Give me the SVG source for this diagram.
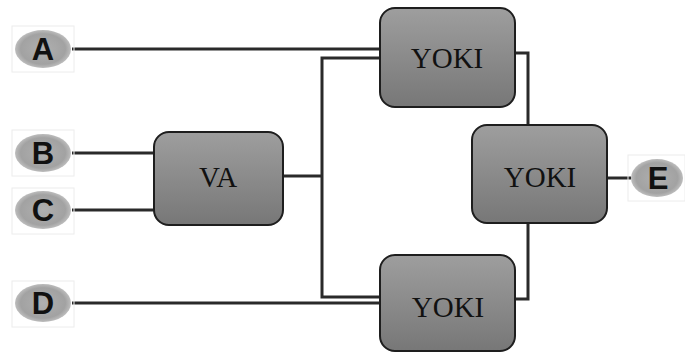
<svg xmlns="http://www.w3.org/2000/svg" width="685" height="353" viewBox="0 0 685 353">
<style>
.box{fill:url(#g);stroke:#1e1e1e;stroke-width:2}
.t{font-family:"Liberation Serif",serif;font-size:29px;fill:#111;text-anchor:middle}
.lbl{font-family:"Liberation Sans",Arial,sans-serif;font-weight:bold;font-size:31px;fill:#111;text-anchor:middle}
.ell{fill:url(#eg)}
.frame{fill:none;stroke:#ececec;stroke-width:1}
.c{fill:none;stroke:#2a2a2a;stroke-width:3}
</style>
<defs>
<linearGradient id="g" x1="0" y1="0" x2="0" y2="1">
<stop offset="0" stop-color="#9e9e9e"/>
<stop offset="1" stop-color="#777"/>
</linearGradient>
<radialGradient id="eg" cx="0.5" cy="0.5" r="0.5">
<stop offset="0" stop-color="#b0b0b0"/>
<stop offset="0.8" stop-color="#a2a2a2"/>
<stop offset="1" stop-color="#bdbdbd"/>
</radialGradient>
</defs>
<rect width="685" height="353" fill="#fff"/>
<g id="connectors">
<path class="c" d="M72 49 H381"/>
<path class="c" d="M72 153 H155"/>
<path class="c" d="M72 210 H155"/>
<path class="c" d="M72 303 H381"/>
<path class="c" d="M282 176 H322"/>
<path class="c" d="M381 58 H322 V297 H381"/>
<path class="c" d="M514 53 H528 V126"/>
<path class="c" d="M514 299 H528 V222"/>
<path class="c" d="M606 178 H631"/>
</g>
<g id="A"><rect class="frame" x="12" y="26" width="62" height="46"/><ellipse class="ell" cx="43" cy="49" rx="28" ry="19"/><text class="lbl" x="43" y="60">A</text></g>
<g id="B"><rect class="frame" x="12" y="130" width="62" height="46"/><ellipse class="ell" cx="43" cy="153" rx="28" ry="19"/><text class="lbl" x="43" y="164">B</text></g>
<g id="C"><rect class="frame" x="12" y="188" width="62" height="46"/><ellipse class="ell" cx="43" cy="210" rx="28" ry="19"/><text class="lbl" x="43" y="221">C</text></g>
<g id="D"><rect class="frame" x="12" y="281" width="62" height="46"/><ellipse class="ell" cx="43" cy="303" rx="28" ry="19"/><text class="lbl" x="43" y="314">D</text></g>
<g id="E"><rect class="frame" x="628" y="155" width="57" height="46"/><ellipse class="ell" cx="657" cy="178" rx="26" ry="19"/><text class="lbl" x="658" y="189">E</text></g>
<g id="VA"><rect class="box" x="154" y="132" width="129" height="93" rx="15"/><text class="t" x="218" y="187">VA</text></g>
<g id="YOKI1"><rect class="box" x="380" y="8" width="135" height="99" rx="15"/><text class="t" x="447" y="68">YOKI</text></g>
<g id="YOKI2"><rect class="box" x="472" y="125" width="135" height="98" rx="15"/><text class="t" x="540" y="187">YOKI</text></g>
<g id="YOKI3"><rect class="box" x="380" y="255" width="135" height="96" rx="15"/><text class="t" x="448" y="317">YOKI</text></g>
</svg>
